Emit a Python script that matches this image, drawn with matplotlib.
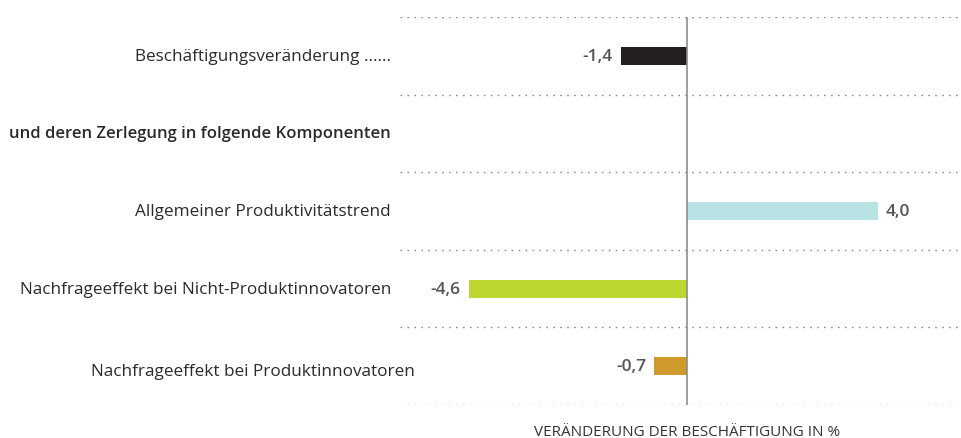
import matplotlib
matplotlib.use("Agg")
import matplotlib.pyplot as plt

categories = [
    "Beschäftigungsveränderung ......",
    "und deren Zerlegung in folgende Komponenten",
    "Allgemeiner Produktivitätstrend",
    "Nachfrageeffekt bei Nicht-Produktinnovatoren",
    "Nachfrageeffekt bei Produktinnovatoren",
]
values = [-1.4, None, 4.0, -4.6, -0.7]
value_labels = ["-1,4", "", "4,0", "-4,6", "-0,7"]
colors = ["#231f20", None, "#b9e2e4", "#bed630", "#cf9a2c"]
bold_rows = [False, True, False, False, False]
xlabel = "VERÄNDERUNG DER BESCHÄFTIGUNG IN %"

plt.rcParams['font.family'] = ['Open Sans', 'DejaVu Sans']

fig = plt.figure(figsize=(9.62, 4.39), dpi=100)
ax = fig.add_axes([400/962, 1-406/439, 562/962, 388/439])
ax.set_xlim(-6.04, 5.77)
ax.set_ylim(len(categories)-0.5, -0.5)

for i, (v, c) in enumerate(zip(values, colors)):
    if v is None:
        continue
    ax.barh(i, v, height=0.232, color=c, zorder=3)
    off = 0.17
    if v < 0:
        ax.text(v - off, i, value_labels[i], ha='right', va='center',
                fontsize=12.5, color='#555555', fontweight='semibold')
    else:
        ax.text(v + off, i, value_labels[i], ha='left', va='center',
                fontsize=12.5, color='#555555', fontweight='semibold')

for k in range(len(categories)+1):
    ax.axhline(k-0.5, color='#8f8f8f', lw=1, linestyle=(0, (1.2, 3.8)), zorder=1)
ax.axvline(0, color='#8c8c8c', lw=1.2, zorder=4)

# label anchor (in axes fraction); the last label in the original sits further right
label_anchor = [-0.016, -0.016, -0.016, -0.016, 0.026]
label_dy = [0, 0, 0, 0, 0.06]
for i, (lab, b) in enumerate(zip(categories, bold_rows)):
    ax.text(label_anchor[i], i + label_dy[i], lab, ha='right', va='center',
            fontsize=12.0 if b else 12.3,
            color='#2a2a2a', fontweight='semibold' if b else 'normal',
            transform=ax.get_yaxis_transform(), clip_on=False)

ax.set_xticks([])
ax.set_yticks([])
for s in ax.spines.values():
    s.set_visible(False)

fig.text(687.5/962, 1-433/439, xlabel, ha='center', va='center',
         fontsize=11, color='#333333')

fig.savefig("out.png", dpi=100)
